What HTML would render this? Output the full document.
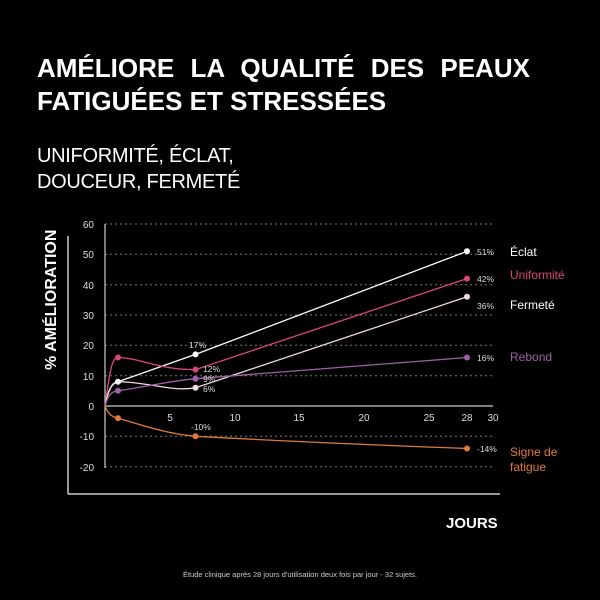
<!DOCTYPE html>
<html><head><meta charset="utf-8"><style>
body{margin:0;background:#000;width:600px;height:600px;overflow:hidden;font-family:"Liberation Sans","DejaVu Sans",sans-serif;}
.t{position:absolute;color:#fff;white-space:nowrap;}
</style></head><body>
<div class="t" style="left:37px;top:52px;font-size:26px;font-weight:bold;line-height:33px;letter-spacing:0;word-spacing:9px">AMÉLIORE LA QUALITÉ DES PEAUX</div>
<div class="t" style="left:37px;top:85px;font-size:26px;font-weight:bold;line-height:33px;letter-spacing:0;word-spacing:0">FATIGUÉES ET STRESSÉES</div>
<div class="t" style="left:37px;top:143px;font-size:20px;line-height:26px;letter-spacing:-0.3px">UNIFORMITÉ, ÉCLAT,<br>DOUCEUR, FERMETÉ</div>
<svg width="600" height="600" style="position:absolute;left:0;top:0" font-family="Liberation Sans, sans-serif">
<text transform="translate(56,370) rotate(-90)" fill="#fff" font-size="16" font-weight="bold">% AMÉLIORATION</text>
<line x1="68" y1="236" x2="68" y2="494" stroke="#ccc" stroke-width="1.5"/>
<line x1="68" y1="494" x2="500" y2="494" stroke="#ccc" stroke-width="1.5"/>
<text x="446" y="528" fill="#fff" font-size="15" font-weight="bold">JOURS</text>
<g stroke="#777" stroke-dasharray="2,3" stroke-width="1">
<line x1="105" y1="224" x2="493" y2="224"/><line x1="105" y1="254.3" x2="493" y2="254.3"/>
<line x1="105" y1="284.7" x2="493" y2="284.7"/><line x1="105" y1="315" x2="493" y2="315"/>
<line x1="105" y1="345.3" x2="493" y2="345.3"/><line x1="105" y1="375.7" x2="493" y2="375.7"/>
<line x1="105" y1="436.3" x2="493" y2="436.3"/><line x1="105" y1="466.7" x2="493" y2="466.7"/>
</g>
<g fill="#ddd" font-size="10" text-anchor="end">
<text x="94" y="228">60</text><text x="94" y="258">50</text><text x="94" y="289">40</text><text x="94" y="319">30</text><text x="94" y="349">20</text><text x="94" y="380">10</text><text x="94" y="410">0</text><text x="94" y="440">-10</text><text x="94" y="471">-20</text>
</g>
<line x1="105" y1="224" x2="105" y2="468" stroke="#ccc" stroke-width="1.2"/>
<line x1="105" y1="406" x2="493" y2="406" stroke="#ccc" stroke-width="1.2"/>
<g fill="#ddd" font-size="10" text-anchor="middle">
<text x="170" y="421">5</text><text x="235" y="421">10</text><text x="299" y="421">15</text><text x="364" y="421">20</text><text x="429" y="421">25</text><text x="467" y="421">28</text><text x="493" y="421">30</text>
</g>
<g fill="none" stroke-width="1.3">
<path d="M105,406 C108,390 112,383 118,381.7 L195.5,354.4 L467,251.3" stroke="#fff"/>
<path d="M105,406 C110,370 112,357 118,357.5 C140,358 160,370 195.5,369.6 L467,278.6" stroke="#d9477a"/>
<path d="M105,406 C108,390 112,382 118,381.7 C150,382 170,392 195.5,387.8 L467,296.8" stroke="#f0d8dc"/>
<path d="M105,406 C108,395 112,391 118,390.8 C150,386 170,381 195.5,378.7 L467,357.5" stroke="#a060a8"/>
<path d="M105,406 C108,414 112,417 118,418.1 C150,428 170,434 195.5,436.3 C300,442 400,446 467,448.5" stroke="#e07a3c"/>
</g>
<g>
<circle cx="118" cy="381.7" r="3" fill="#fff"/><circle cx="195.5" cy="354.4" r="3" fill="#fff"/><circle cx="467" cy="251.3" r="3" fill="#fff"/>
<circle cx="118" cy="357.5" r="3" fill="#d9477a"/><circle cx="195.5" cy="369.6" r="3" fill="#d9477a"/><circle cx="467" cy="278.6" r="3" fill="#d9477a"/>
<circle cx="195.5" cy="387.8" r="3" fill="#f0d8dc"/><circle cx="467" cy="296.8" r="3" fill="#f0d8dc"/>
<circle cx="118" cy="390.8" r="3" fill="#a060a8"/><circle cx="195.5" cy="378.7" r="3" fill="#a060a8"/><circle cx="467" cy="357.5" r="3" fill="#a060a8"/>
<circle cx="118" cy="418.1" r="3" fill="#e07a3c"/><circle cx="195.5" cy="436.3" r="3" fill="#e07a3c"/><circle cx="467" cy="448.5" r="3" fill="#e07a3c"/>
</g>
<g fill="#ddd" font-size="8.5">
<text x="189" y="348">17%</text><text x="203" y="372">12%</text><text x="203" y="382">9%</text><text x="203" y="392">6%</text><text x="191" y="430">-10%</text>
<text x="477" y="255">51%</text><text x="477" y="282">42%</text><text x="477" y="309">36%</text><text x="477" y="361">16%</text><text x="477" y="452">-14%</text>
</g>
<g font-size="12">
<text x="510" y="256" fill="#fff">Éclat</text>
<text x="510" y="279" fill="#d9477a">Uniformité</text>
<text x="510" y="309" fill="#fff">Fermeté</text>
<text x="510" y="361" fill="#a060a8">Rebond</text>
<text x="510" y="456" fill="#e07a3c">Signe de</text>
<text x="510" y="471" fill="#e07a3c">fatigue</text>
</g>
<text x="300" y="577" fill="#ccc" font-size="7.5" text-anchor="middle">Étude clinique après 28 jours d'utilisation deux fois par jour - 32 sujets.</text>
</svg>
</body></html>
